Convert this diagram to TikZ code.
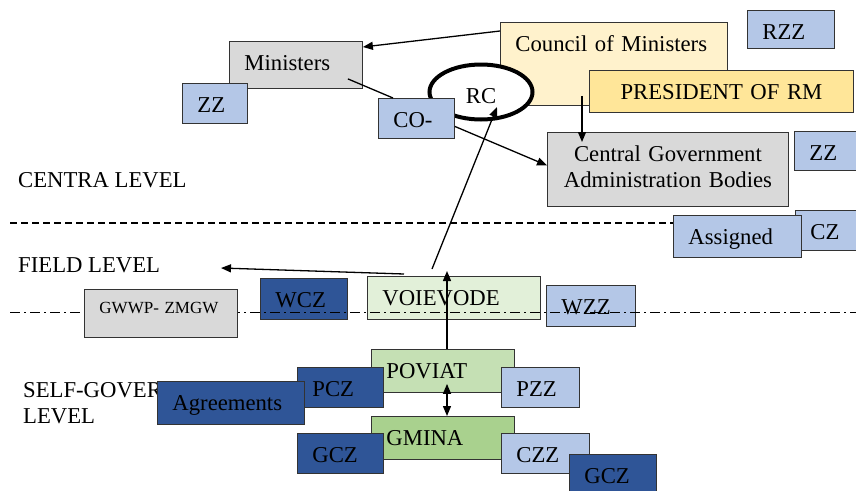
\documentclass[tikz,border=0pt]{standalone}
\usepackage{fontspec}
\setmainfont{Liberation Serif}
\usetikzlibrary{shapes.geometric,arrows.meta}

\definecolor{boxgray}{HTML}{D9D9D9}
\definecolor{lblue}{HTML}{B4C7E7}
\definecolor{dblue}{HTML}{2F5597}
\definecolor{lyel}{HTML}{FFF2CC}
\definecolor{yel}{HTML}{FFE699}
\definecolor{lgrn}{HTML}{E2F0D9}
\definecolor{grn}{HTML}{C5E0B4}
\definecolor{dgrn}{HTML}{A9D18E}

\newcommand{\bigsz}{\fontsize{22.7}{26}\selectfont}
\newcommand{\smallsz}{\fontsize{17}{20}\selectfont}

\begin{document}
\begin{tikzpicture}[x=1pt,y=-1pt,
    >={Triangle[length=10pt,width=8pt]},
    box/.style={draw=black!80,line width=0.9pt,anchor=north west,inner xsep=15pt,
      inner ysep=0pt,text height=29.5pt,align=left,font=\bigsz},
    lvl/.style={anchor=north west,inner sep=0pt,text height=15pt,align=left,font=\bigsz},
    conn/.style={line width=1.3pt}]
          \useasboundingbox (0,0) rectangle (856,490);
          \clip (0,0) rectangle (856,490);
          % level labels
          \node[lvl] (lvc) at (18,172) {CENTRA LEVEL};
          \node[lvl] (lvf) at (18,257) {FIELD LEVEL};
          \node[lvl,text height=41pt] (lvs) at (23,382) {SELF-GOVER\\LEVEL};
          % central level
          \node[box,fill=boxgray,text width=103pt,text depth=17.5pt] (mins) at (229,41) {Ministers};
          \node[box,fill=lblue,text width=35pt,text depth=10.5pt] (zzl) at (182,83) {ZZ};
          \node[box,fill=lyel,text width=197pt,text depth=53.5pt] (cmin) at (500,22) {Council of Ministers};
          \node[box,fill=lblue,text width=57pt,text depth=8.5pt] (rzz) at (747,10) {RZZ};
          \node[ellipse,draw,line width=4pt,fill=white,minimum width=103pt,minimum height=55pt,
            inner sep=0pt,font=\bigsz,text height=22pt,text depth=0pt] (rc) at (481,92) {RC};
          \node[box,fill=lblue,text width=46pt,text depth=10.5pt] (co) at (378,98) {CO-};
          \node[box,fill=yel,align=center,text width=234pt,text depth=12.5pt] (pres) at (589,70) {PRESIDENT OF RM};
          \node[box,fill=boxgray,align=center,inner xsep=13pt,text width=215pt,text depth=44.5pt] (cgab) at (547,132)
            {Central Government\\Administration Bodies};
          \node[box,fill=lblue,text width=40pt,text depth=9.5pt] (zzr) at (794,131) {ZZ};
          \draw[conn,->] ([yshift=-9pt]cmin.north west) -- ([yshift=-6pt]mins.north east);
          \draw[conn] ([xshift=-15pt,yshift=10pt]mins.south east) -- ([xshift=15pt]co.north west);
          \draw[conn,->] ([yshift=-8pt]co.east) -- ([yshift=4pt]cgab.west);
          \draw[conn,->] ([xshift=82pt,yshift=10pt]cmin.south west) -- ([xshift=35pt,yshift=-10pt]cgab.north west);
          % central / field border
          \draw[line width=1.3pt,dash pattern=on 7pt off 4pt] (10,223) -- (856,223);
          \node[box,fill=lblue,text width=40pt,text depth=10.5pt] (cz) at (795,210) {CZ};
          \node[box,fill=lblue,text width=98pt,text depth=12.5pt] (assg) at (673,215) {Assigned};
          % field level
          \node[box,fill=dblue,text width=57pt,text depth=11.5pt] (wcz) at (260,278) {WCZ};
          \node[box,fill=lgrn,text width=143pt,text depth=13.5pt] (voi) at (367,276) {VOIEVODE};
          \node[box,fill=lblue,text width=59pt,text depth=11.5pt] (wzz) at (546,285) {WZZ};
          \draw[line width=1pt,dash pattern=on 10pt off 4pt on 2pt off 4pt] (10,312) -- (856,312);
          \node[box,fill=boxgray,font=\smallsz,text height=24.3pt,text width=123pt,text depth=23.7pt] (gwwp)
            at (84,289) {GWWP- ZMGW};
          % self-government level
          \node[box,fill=grn,text width=113pt,text depth=13.5pt] (pov) at (371,349) {POVIAT};
          \node[box,fill=dblue,text width=56pt,text depth=10.5pt] (pcz) at (297,367) {PCZ};
          \node[box,fill=dblue,text width=117pt,text depth=13.5pt] (agr) at (157,381) {Agreements};
          \node[box,fill=lblue,text width=48pt,text depth=10.5pt] (pzz) at (501,367) {PZZ};
          \node[box,fill=dgrn,text width=113pt,text depth=13.5pt] (gmi) at (371,416) {GMINA};
          \node[box,fill=dblue,text width=56pt,text depth=10.5pt] (gczl) at (297,433) {GCZ};
          \node[box,fill=lblue,text width=58pt,text depth=10.5pt] (czz) at (501,433) {CZZ};
          \node[box,fill=dblue,text width=57pt,text depth=10.5pt] (gczr) at (569,454) {GCZ};
          % links between levels
          \coordinate (fldend) at (221,268);
          \draw[conn,->] ([xshift=65pt,yshift=7pt]voi.north west) -- ([xshift=16pt,yshift=-15pt]rc.center);
          \draw[conn,->] ([xshift=37pt,yshift=2pt]voi.north west) -- (fldend);
          \draw[conn,->] ([xshift=76pt]pov.north west) -- ([xshift=80pt,yshift=5pt]voi.north west);
          \draw[conn,<->] ([xshift=76pt,yshift=9pt]pov.south west) -- ([xshift=76pt]gmi.north west);
        \end{tikzpicture}
\end{document}
